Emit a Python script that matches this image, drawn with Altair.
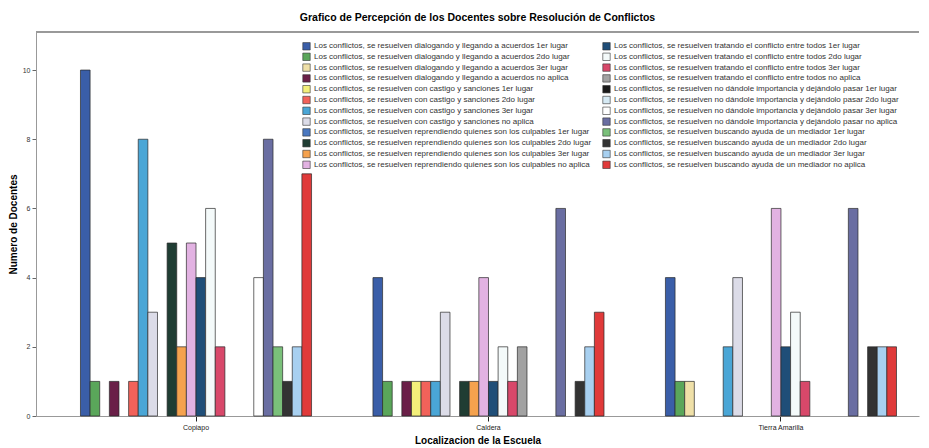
import altair as alt
import pandas as pd

schools = ["Copiapo", "Caldera", "Tierra Amarilla"]

series = [
    "Los conflictos, se resuelven dialogando y llegando a acuerdos 1er lugar",
    "Los conflictos, se resuelven dialogando y llegando a acuerdos 2do lugar",
    "Los conflictos, se resuelven dialogando y llegando a acuerdos 3er lugar",
    "Los conflictos, se resuelven dialogando y llegando a acuerdos no aplica",
    "Los conflictos, se resuelven con castigo y sanciones 1er lugar",
    "Los conflictos, se resuelven con castigo y sanciones 2do lugar",
    "Los conflictos, se resuelven con castigo y sanciones 3er lugar",
    "Los conflictos, se resuelven con castigo y sanciones no aplica",
    "Los conflictos, se resuelven reprendiendo quienes son los culpables 1er lugar",
    "Los conflictos, se resuelven reprendiendo quienes son los culpables 2do lugar",
    "Los conflictos, se resuelven reprendiendo quienes son los culpables 3er lugar",
    "Los conflictos, se resuelven reprendiendo quienes son los culpables no aplica",
    "Los conflictos, se resuelven tratando el conflicto entre todos 1er lugar",
    "Los conflictos, se resuelven tratando el conflicto entre todos 2do lugar",
    "Los conflictos, se resuelven tratando el conflicto entre todos 3er lugar",
    "Los conflictos, se resuelven tratando el conflicto entre todos no aplica",
    "Los conflictos, se resuelven no dándole importancia y dejándolo pasar 1er lugar",
    "Los conflictos, se resuelven no dándole importancia y dejándolo pasar 2do lugar",
    "Los conflictos, se resuelven no dándole importancia y dejándolo pasar 3er lugar",
    "Los conflictos, se resuelven no dándole importancia y dejándolo pasar no aplica",
    "Los conflictos, se resuelven buscando ayuda de un mediador 1er lugar",
    "Los conflictos, se resuelven buscando ayuda de un mediador 2do lugar",
    "Los conflictos, se resuelven buscando ayuda de un mediador 3er lugar",
    "Los conflictos, se resuelven buscando ayuda de un mediador no aplica",
]

colors = [
    "#3a5ea8", "#5aa65a", "#efe0a8", "#6a1f48",
    "#f3ef7a", "#f2625a", "#4aa6d6", "#dcdce8",
    "#4a78c0", "#1f3d33", "#f5a24e", "#e2b2e2",
    "#1f4e78", "#f4fafa", "#d8486a", "#a2a2a2",
    "#1a1a1a", "#d6eaf4", "#ffffff", "#6a6ea2",
    "#7ac07a", "#333333", "#a8d0f0", "#e03a3a",
]

copiapo = [10, 1, 0, 1, 0, 1, 8, 3, 0, 5, 2, 5, 4, 6, 2, 0, 0, 0, 4, 8, 2, 1, 2, 7]
caldera = [4, 1, 0, 1, 1, 1, 1, 3, 0, 1, 1, 4, 1, 2, 1, 2, 0, 0, 0, 6, 0, 1, 2, 3]
tierra = [4, 1, 1, 0, 0, 0, 2, 4, 0, 0, 0, 6, 2, 3, 1, 0, 0, 0, 0, 6, 0, 2, 2, 2]

y_ticks = [0, 2, 4, 6, 8, 10]

rows = []
for school, vals in zip(schools, [copiapo, caldera, tierra]):
    for s, v in zip(series, vals):
        if v > 0:
            rows.append({"escuela": school, "serie": s, "valor": v})
df = pd.DataFrame(rows)

W, H = 883, 384
FONT = "Liberation Sans"

bars = alt.Chart(df).mark_bar(stroke="#2a2a2a", strokeWidth=0.7).encode(
    x=alt.X(
        "escuela:N",
        scale=alt.Scale(domain=schools, paddingInner=0.21, paddingOuter=0.1145, align=0.664),
        axis=alt.Axis(
            title="Localizacion de la Escuela",
            labelAngle=0,
            labelFontSize=7,
            labelColor="#222",
            tickSize=5,
            tickColor="#222",
            domainColor="#999",
            titleFontSize=10,
            titleFontWeight="bold",
            titlePadding=5,
            labelPadding=2,
        ),
    ),
    xOffset=alt.XOffset(
        "serie:N", scale=alt.Scale(domain=series, paddingInner=0, paddingOuter=0)
    ),
    y=alt.Y(
        "valor:Q",
        scale=alt.Scale(domain=[0, 11.1], nice=False),
        axis=alt.Axis(
            title="Numero de Docentes",
            values=y_ticks,
            labelFontSize=7,
            labelColor="#333",
            tickSize=4,
            tickColor="#666",
            domainColor="#999",
            grid=False,
            titleFontSize=10,
            titleFontWeight="bold",
            titlePadding=4,
            labelPadding=2,
        ),
    ),
    color=alt.Color(
        "serie:N",
        scale=alt.Scale(domain=series, range=colors),
        legend=alt.Legend(
            title=None,
            orient="none",
            legendX=266,
            legendY=9.5,
            columns=2,
            columnPadding=9,
            rowPadding=-0.2,
            labelFontSize=8,
            labelColor="#333",
            labelLimit=400,
            labelOffset=3,
            symbolType="square",
            symbolSize=55,
            symbolStrokeColor="#333",
            symbolStrokeWidth=0.6,
        ),
    ),
)

top_line = alt.Chart(df).mark_rule(color="#999", strokeWidth=1).encode(
    x=alt.value(0), x2=alt.value(W), y=alt.value(0)
)

chart = (
    alt.layer(bars, top_line)
    .properties(
        width=W,
        height=H,
        title=alt.TitleParams(
            "Grafico de Percepción de los Docentes sobre Resolución de Conflictos",
            fontSize=10.5,
            fontWeight="bold",
            anchor="middle",
            offset=8,
        ),
    )
    .configure(font=FONT, padding={"left": 0, "top": 5, "right": 0, "bottom": 0})
    .configure_view(stroke=None)
)

chart.save("out.html", embed_options={"renderer": "svg", "actions": False})
